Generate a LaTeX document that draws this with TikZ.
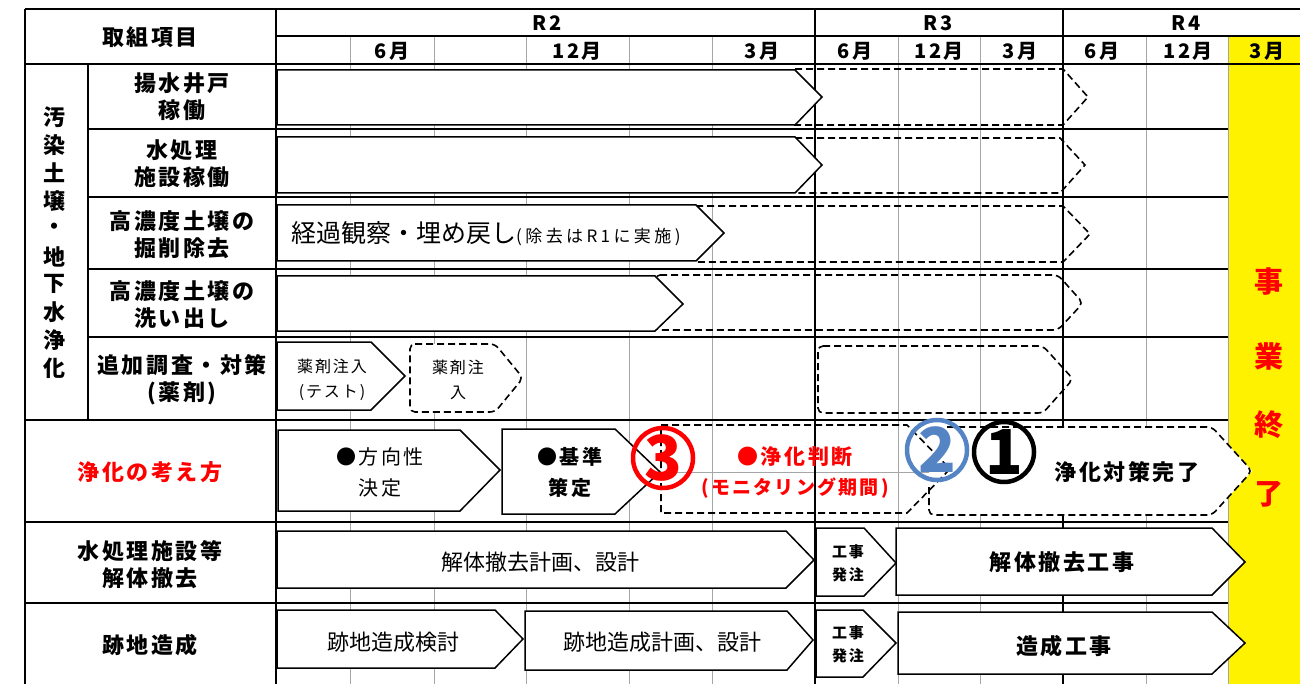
\documentclass[tikz,border=0pt]{standalone}
\usepackage{fontspec}
\setmainfont{Noto Sans CJK JP}
\newfontfamily\jpls{Noto Sans CJK JP}[LetterSpace=12]
\newfontfamily\jplw{Noto Sans CJK JP}[LetterSpace=20]
\newcommand\fsz[2]{\fontsize{#1}{#2}\selectfont}
\definecolor{circblue}{RGB}{84,132,196}
\newcommand\chev[7][]{\draw[#1] (#2,#3) -- (#5,#3) -- (#6,#7) -- (#5,#4) -- (#2,#4) -- cycle;}
\tikzset{
 tbl/.style={line width=2pt, draw=black},
 grd/.style={line width=1pt, draw=gray!70},
 sbar/.style={draw=black, fill=white, line width=1.5pt},
 dbar/.style={draw=black, line width=1.6pt, dash pattern=on 7pt off 4pt},
 rdbar/.style={dbar, rounded corners=5pt},
 txt/.style={inner sep=0pt, align=center},
 lab/.style={txt, font=\jpls\bfseries\fsz{22}{27}},
 hdr/.style={txt, font=\jpls\bfseries\fsz{20}{20}},
 small/.style={txt, font=\jpls\fsz{16}{25}},
 mid/.style={txt, font=\jpls\fsz{20}{31}},
 midb/.style={txt, font=\jpls\bfseries\fsz{20}{31}},
 plan/.style={txt, font=\fsz{22}{22}},
 work/.style={txt, font=\jpls\bfseries\fsz{22}{22}},
 order/.style={txt, font=\jpls\bfseries\fsz{15}{23}},
 ring/.style={circle, line width=4.5pt, minimum size=60pt, inner sep=0pt},
 digit/.style={txt, font=\bfseries\fsz{62}{62}},
}
\begin{document}
\begin{tikzpicture}[x=1pt,y=-1pt]
\useasboundingbox (0,0) rectangle (1300,684);
\fill[yellow] (1228,37) rectangle (1300,684);
% grid
\foreach \gx in {350,434,526,629,712,898,980,1146,1228} \draw[grd] (\gx,36) -- (\gx,684);
\draw[grd, line width=0.8pt] (660,472) -- (929,472);
% table
\draw[tbl] (25,9) -- (1300,9);
\draw[tbl] (276,36) -- (1300,36);
\draw[tbl] (25,64) -- (1300,64);
\draw[tbl] (25,9) -- (25,684);
\foreach \vx in {276,815,1063} \draw[tbl] (\vx,9) -- (\vx,684);
\draw[tbl] (88,64) -- (88,420);
\foreach \hy in {129,197,269,337} \draw[tbl] (88,\hy) -- (1228,\hy);
\foreach \hy in {420,522,603} \draw[tbl] (25,\hy) -- (1228,\hy);

% header texts
\node[lab] (h0) at (150,37) {取組項目};
\node[hdr] (r2) at (547,23) {R2};
\node[hdr] (r3) at (938,23) {R3};
\node[hdr] (r4) at (1186,23) {R4};
\node[hdr] (m1) at (392,51) {6月};
\node[hdr] (m2) at (577,51) {12月};
\node[hdr] (m3) at (762,51) {3月};
\node[hdr] (m4) at (855,51) {6月};
\node[hdr] (m5) at (939,51) {12月};
\node[hdr] (m6) at (1020,51) {3月};
\node[hdr] (m7) at (1102,51) {6月};
\node[hdr] (m8) at (1188,51) {12月};
\node[hdr] (m9) at (1267,51) {3月};

% row labels
\foreach \c [count=\i from 0] in {汚,染,土,壌,・,地,下,水,浄,化}
  \node[lab] (v\i) at (54,{117+\i*27.9}) {\c};
\node[lab] (l1) at (182,97) {揚水井戸\\稼働};
\node[lab] (l2) at (182,164) {水処理\\施設稼働};
\node[lab] (l3) at (182,235) {高濃度土壌の\\掘削除去};
\node[lab] (l4) at (182,305) {高濃度土壌の\\洗い出し};
\node[lab] (l5) at (182,380) {追加調査・対策\\(薬剤)};
\node[lab, text=red] (l6) at (150,472) {浄化の考え方};
\node[lab] (l7) at (150,565) {水処理施設等\\解体撤去};
\node[lab] (l8) at (150,645) {跡地造成};

% rows 1-4
\chev[dbar]{795}{69}{125}{1063}{1088}{97}
\chev[sbar]{277}{70}{125}{795}{822}{97}
\chev[dbar]{795}{138}{193}{1060}{1085}{165}
\chev[sbar]{277}{137}{193}{795}{822}{165}
\chev[dbar]{696}{206}{262}{1063}{1090}{234}
\chev[sbar]{277}{205}{261}{696}{724}{233}
\node[txt, anchor=west] (b3) at (291,234) {{\fsz{25}{25}経過観察・埋め戻し}{\jplw\fsz{17}{17}(除去はR1に実施)}};
\chev[rdbar]{655}{275}{330}{1058}{1083}{303}
\chev[sbar]{277}{276}{331}{655}{683}{304}

% row 5
\chev[sbar]{277}{342}{410}{371}{405}{376}
\node[small] (b5a) at (332,380) {薬剤注入\\(テスト)};
\chev[rdbar, fill=white]{410}{344}{412}{495}{523}{378}
\node[small] (b5b) at (458,380) {薬剤注\\入};
\chev[rdbar]{818}{346}{413}{1043}{1073}{379}

% row 6
\chev[sbar]{278}{430}{511}{460}{500}{470}
\node[mid] (b6a) at (380,472) {●方向性\\決定};
\chev[sbar]{502}{429}{514}{615}{660}{472}
\node[midb] (b6b) at (570,472) {●基準\\策定};
\fill[white] (929,427) -- (1212,427) -- (1252,471) -- (1212,515) -- (929,515) -- cycle;
\draw[dbar, rounded corners=5pt] (929,487) -- (929,515) -- (1212,515) -- (1252,471) -- (1212,427) -- (945,427);
\draw[dbar] (661,425) -- (907,425) -- (950,469) -- (907,513) -- (661,513) -- cycle;
\node[txt, text=red, font=\jpls\bfseries\fsz{21}{30}] (b6c) at (795,472) {●浄化判断\\{\fsz{19}{30}(モニタリング期間)}};
\node[work] (b6d) at (1127,472) {浄化対策完了};
\node[ring, draw=red] (c3) at (663,458) {};
\node[digit, text=red] (n3) at (c3.center) {3};
\node[ring, draw=circblue] (c2) at (937,450) {};
\node[digit, text=circblue] (n2) at (c2.center) {2};
\node[ring, draw=black] (c1) at (1004,452) {};
\node[digit] (n1) at (c1.center) {1};

% row 7
\chev[sbar]{277}{531}{588}{786}{814}{560}
\node[plan] (b7a) at (540,562) {解体撤去計画、設計};
\chev[sbar]{816}{528}{596}{864}{896}{563}
\node[order] (b7b) at (848,563) {工事\\発注};
\chev[sbar]{896}{528}{595}{1212}{1245}{562}
\node[work] (b7c) at (1062,562) {解体撤去工事};

% row 8
\chev[sbar]{277}{610}{668}{495}{523}{639}
\node[plan] (b8a) at (393,642) {跡地造成検討};
\chev[sbar]{525}{611}{670}{787}{813}{640}
\node[plan] (b8b) at (662,642) {跡地造成計画、設計};
\chev[sbar]{816}{610}{677}{863}{896}{643}
\node[order] (b8c) at (848,644) {工事\\発注};
\chev[sbar]{898}{612}{674}{1212}{1245}{643}
\node[work] (b8d) at (1064,646) {造成工事};

% end of project
\foreach \c/\yy [count=\i] in {事/282,業/356,終/425,了/494}
  \node[txt, text=red, font=\bfseries\fsz{29}{29}] (e\i) at (1269,\yy) {\c};
\end{tikzpicture}
\end{document}
